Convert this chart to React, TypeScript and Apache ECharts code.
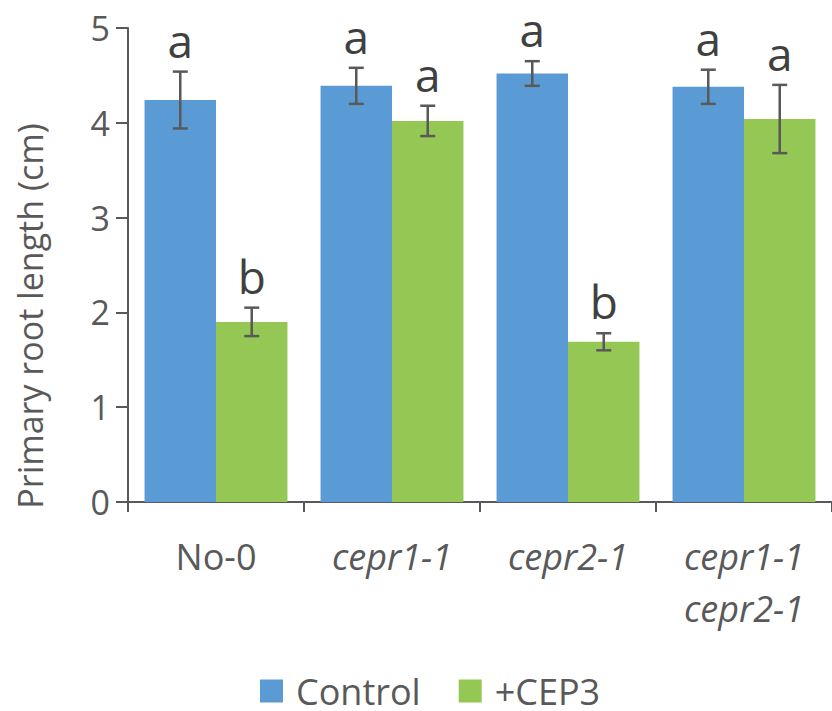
import React, { useEffect, useRef } from "react";
import * as echarts from "echarts";

const categories = ["No-0", "cepr1-1", "cepr2-1", "cepr1-1\ncepr2-1"];
const italicCats = [false, true, true, true];
const controlValues = [4.24, 4.39, 4.52, 4.38];
const controlErrors = [0.3, 0.19, 0.13, 0.18];
const cep3Values = [1.9, 4.02, 1.69, 4.04];
const cep3Errors = [0.15, 0.16, 0.09, 0.36];
const controlLetters = ["a", "a", "a", "a"];
const cep3Letters = ["b", "a", "b", "a"];
const yTicks = [0, 1, 2, 3, 4, 5];

const BLUE = "#5B9BD5";
const GREEN = "#94C753";
const TEXT = "#595959";
const FONT = "'Open Sans', 'Noto Sans', sans-serif";
const BAR_FRAC = 0.406;

function errorSeries(values: number[], errors: number[], letters: string[], side: number) {
  return {
    type: "custom",
    z: 10,
    data: values.map((v, i) => [i, v, errors[i]]),
    renderItem: (params: any, api: any) => {
      const i = api.value(0);
      const v = api.value(1);
      const e = api.value(2);
      const letter = letters[params.dataIndex];
      const catW = api.size([1, 0])[0];
      const bw = catW * BAR_FRAC;
      const c = api.coord([i, v]);
      const x = c[0] + side * bw / 2;
      const top = api.coord([i, v + e])[1];
      const bot = api.coord([i, v - e])[1];
      const cap = 7.5;
      const style = { stroke: "#595959", lineWidth: 2.5 };
      return {
        type: "group",
        children: [
          { type: "line", shape: { x1: x, y1: top, x2: x, y2: bot }, style },
          { type: "line", shape: { x1: x - cap, y1: top, x2: x + cap, y2: top }, style },
          { type: "line", shape: { x1: x - cap, y1: bot, x2: x + cap, y2: bot }, style },
          {
            type: "text",
            x: x,
            y: top - 9,
            style: {
              text: letter,
              fill: "#404040",
              font: `46px ${FONT}`,
              lineHeight: 46,
              align: "center",
              verticalAlign: "bottom",
            },
          },
        ],
      };
    },
  };
}

export default function App() {
  const ref = useRef<HTMLDivElement>(null);
  useEffect(() => {
    if (!ref.current) return;
    const chart = echarts.init(ref.current, undefined, { renderer: "svg" });
    chart.setOption({
      animation: false,
      textStyle: { fontFamily: FONT },
      grid: { left: 128, top: 28, bottom: 209, right: -6, containLabel: false },
      legend: {
        top: 668,
        left: 255,
        itemWidth: 23,
        itemHeight: 23,
        itemGap: 38,
        icon: "rect",
        textStyle: {
          fontSize: 36,
          lineHeight: 36,
          color: TEXT,
          fontFamily: FONT,
          padding: [0, 0, 0, 8],
        },
        data: ["Control", "+CEP3"],
      },
      graphic: [
        {
          type: "text",
          x: 30,
          y: 316,
          rotation: Math.PI / 2,
          style: {
            text: "Primary root length (cm)",
            font: `34px ${FONT}`,
            fill: TEXT,
            align: "center",
            verticalAlign: "middle",
          },
        },
      ],
      xAxis: {
        type: "category",
        data: categories,
        axisLine: { lineStyle: { color: "#595959", width: 2 } },
        axisTick: { show: true, length: 10, alignWithLabel: false, lineStyle: { color: "#595959", width: 2 } },
        axisLabel: {
          margin: 28,
          interval: 0,
          color: TEXT,
          formatter: (val: string) => {
            const idx = categories.indexOf(val);
            const key = italicCats[idx] ? "i" : "n";
            return val.split("\n").map((s) => `{${key}|${s}}`).join("\n");
          },
          rich: {
            n: { fontSize: 36, fontFamily: FONT, color: TEXT, lineHeight: 52 },
            i: { fontSize: 36, fontFamily: FONT, color: TEXT, fontStyle: "italic", lineHeight: 52 },
          },
        },
      },
      yAxis: {
        type: "value",
        min: 0,
        max: 5,
        interval: 1,
        axisLine: { show: true, lineStyle: { color: "#595959", width: 2 } },
        axisTick: { show: true, length: 12, lineStyle: { color: "#595959", width: 2 } },
        splitLine: { show: false },
        axisLabel: {
          margin: 18,
          fontSize: 34,
          color: TEXT,
          fontFamily: FONT,
          customValues: yTicks,
        },
      },
      series: [
        {
          name: "Control",
          type: "bar",
          data: controlValues,
          barWidth: `${BAR_FRAC * 100}%`,
          barGap: "0%",
          itemStyle: { color: BLUE },
        },
        {
          name: "+CEP3",
          type: "bar",
          data: cep3Values,
          barWidth: `${BAR_FRAC * 100}%`,
          barGap: "0%",
          itemStyle: { color: GREEN },
        },
        errorSeries(controlValues, controlErrors, controlLetters, -1),
        errorSeries(cep3Values, cep3Errors, cep3Letters, 1),
      ],
    });
    return () => chart.dispose();
  }, []);
  return (
    <div
      ref={ref}
      style={{ position: "absolute", left: 0, top: 0, width: 832, height: 711 }}
    />
  );
}
